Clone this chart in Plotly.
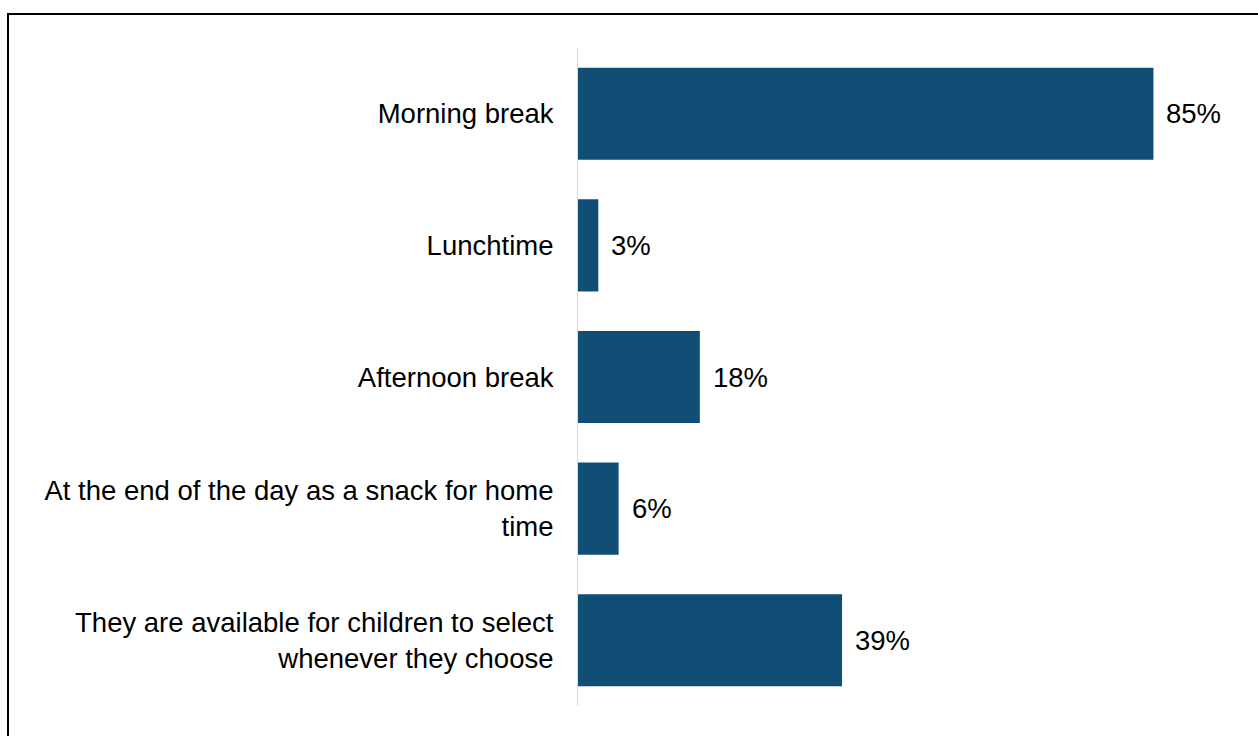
import plotly.graph_objects as go

# Survey: when are snacks offered during the school day
categories = [
    "Morning break",
    "Lunchtime",
    "Afternoon break",
    "At the end of the day as a snack for home<br>time",
    "They are available for children to select<br>whenever they choose",
]
shares = [85, 3, 18, 6, 39]
value_labels = ["85%", "3%", "18%", "6%", "39%"]

BAR_COLOR = "#114e75"
FONT = "Liberation Sans, Arial, sans-serif"
FS = 27.5

W, H = 1258, 736
ML, MR, MT, MB = 578, 3, 48, 30

fig = go.Figure(
    go.Bar(
        x=shares,
        y=categories,
        orientation="h",
        marker=dict(color=BAR_COLOR, line=dict(width=0)),
        hoverinfo="skip",
    )
)

# value labels just to the right of each bar end
for cat, val, lab in zip(categories, shares, value_labels):
    fig.add_annotation(
        x=val, y=cat, xref="x", yref="y",
        text=lab, showarrow=False,
        xanchor="left", yanchor="middle", xshift=11,
        font=dict(family=FONT, size=FS, color="#000000"),
    )

# outer frame of the chart area
pw = W - ML - MR
ph = H - MT - MB
fig.add_shape(
    type="rect", xref="paper", yref="paper",
    x0=(8 - ML) / pw, x1=(W + 20 - ML) / pw,
    y0=-(MB + 20) / ph, y1=(H - MB - 14) / ph,
    line=dict(color="#000000", width=2),
    fillcolor="rgba(0,0,0,0)", layer="above",
)

fig.update_layout(
    width=W, height=H,
    margin=dict(l=ML, r=MR, t=MT, b=MB, pad=0),
    paper_bgcolor="#ffffff", plot_bgcolor="#ffffff",
    bargap=0.30,
    showlegend=False,
    font=dict(family=FONT, size=FS, color="#000000"),
    xaxis=dict(
        range=[0, 100], showgrid=False, zeroline=False,
        showticklabels=False, showline=False, fixedrange=True,
    ),
    yaxis=dict(
        autorange="reversed", showgrid=False, zeroline=False,
        showline=True, linecolor="#d9d9d9", linewidth=1,
        ticks="", ticklabelstandoff=18,
        tickfont=dict(family=FONT, size=FS, color="#000000"),
        fixedrange=True,
    ),
)

fig.write_html("out.html")
